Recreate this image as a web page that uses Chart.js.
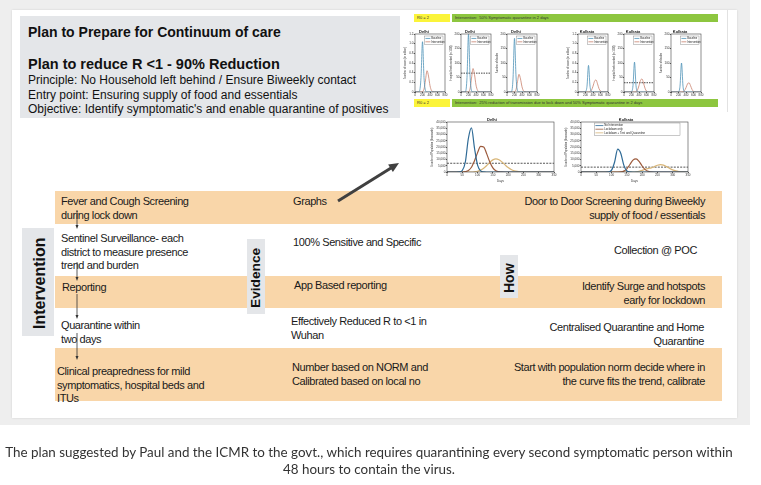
<!DOCTYPE html>
<html><head><meta charset="utf-8">
<script src="https://cdn.jsdelivr.net/npm/chart.js@4.4.1/dist/chart.umd.min.js"></script>
<style>
html,body{margin:0;padding:0;width:761px;height:485px;overflow:hidden;background:#fff;font-family:"Liberation Sans",Arial,sans-serif;color:#111;}
.abs{position:absolute;}
#page{left:0;top:0;width:750px;height:425px;background:#eeeeee;}
#slide{left:12px;top:10px;width:725px;height:408px;background:#fff;box-shadow:0 0 2px rgba(0,0,0,0.12);}
#titlebox{left:20px;top:16px;width:380px;height:102px;background:#e4e6e9;}
.h1{font-weight:bold;font-size:14px;white-space:nowrap;}
.h2{font-weight:bold;font-size:14.5px;white-space:nowrap;}
.p{font-size:12px;line-height:14.5px;white-space:nowrap;}
.row{left:55px;width:667px;background:#f9d6a9;}
.t{font-size:11px;line-height:13.5px;letter-spacing:-0.4px;white-space:nowrap;color:#1a1a1a;}
.r{text-align:right;}
.vbox{background:#e4e6e9;}
.vlab{font-weight:bold;white-space:nowrap;transform-origin:0 0;transform:rotate(-90deg);color:#111;}
.bar{font-size:4px;line-height:8px;white-space:nowrap;color:#333;padding-left:3px;box-sizing:border-box;}
#caption{left:0;top:444px;width:738px;text-align:center;font-family:Lato,"Open Sans",sans-serif;font-size:13.4px;line-height:17px;color:#333;}
canvas{position:absolute;}
</style></head>
<body>
<div id="page" class="abs"></div>
<div id="slide" class="abs"></div>
<div id="titlebox" class="abs"></div>
<div class="abs h1" style="left:28px;top:24px;">Plan to Prepare for Continuum of care</div>
<div class="abs h2" style="left:28px;top:56px;">Plan to reduce R &lt;1 - 90% Reduction</div>
<div class="abs p" style="left:28px;top:73px;">Principle: No Household left behind / Ensure Biweekly contact<br>Entry point: Ensuring supply of food and essentials<br>Objective: Identify symptomatic's and enable quarantine of positives</div>

<div class="abs" style="left:727px;top:10px;width:1px;height:102px;background:#e2e2e2;"></div>
<div class="abs bar" style="left:414px;top:14px;width:36px;height:8px;background:#fbf43a;">R0 = 2</div>
<div class="abs bar" style="left:452px;top:14px;width:266px;height:8px;background:#8dc63f;">Intervention:&nbsp; 50% Symptomatic quarantine in 2 days</div>
<div class="abs bar" style="left:414px;top:99px;width:36px;height:8px;background:#fbf43a;">R0 = 2</div>
<div class="abs bar" style="left:452px;top:99px;width:266px;height:8px;background:#8dc63f;">Intervention:&nbsp; 25% reduction of transmission due to lock down and 50% Symptomatic quarantine in 2 days</div>

<canvas id="d1"></canvas><canvas id="d2"></canvas><canvas id="d3"></canvas>
<canvas id="k1"></canvas><canvas id="k2"></canvas><canvas id="k3"></canvas>
<canvas id="bd"></canvas><canvas id="bk"></canvas>

<div class="abs row" style="top:191px;height:33px;"></div>
<div class="abs row" style="top:276px;height:32px;"></div>
<div class="abs row" style="top:348px;height:53px;"></div>

<div class="abs vbox" style="left:22px;top:228px;width:32px;height:108px;"></div>
<div class="abs vlab" style="left:31px;top:329px;font-size:16px;line-height:18px;">Intervention</div>
<div class="abs vbox" style="left:247px;top:239px;width:18px;height:75px;"></div>
<div class="abs vlab" style="left:248px;top:308px;font-size:13.7px;line-height:16px;">Evidence</div>
<div class="abs vbox" style="left:500px;top:255px;width:18px;height:43px;"></div>
<div class="abs vlab" style="left:501px;top:293px;font-size:14px;line-height:16px;">How</div>

<div class="abs t" style="left:61px;top:195px;">Fever and Cough Screening<br>during lock down</div>
<div class="abs t" style="left:61px;top:232px;">Sentinel Surveillance- each<br>district to measure presence<br>trend and burden</div>
<div class="abs t" style="left:62px;top:281px;">Reporting</div>
<div class="abs t" style="left:61px;top:319px;">Quarantine within<br>two days</div>
<div class="abs t" style="left:57px;top:365px;">Clinical preapredness for mild<br>symptomatics, hospital beds and<br>ITUs</div>

<div class="abs t" style="left:293px;top:195px;">Graphs</div>
<div class="abs t" style="left:293px;top:236px;">100% Sensitive and Specific</div>
<div class="abs t" style="left:294px;top:279px;">App Based reporting</div>
<div class="abs t" style="left:291px;top:315px;">Effectively Reduced R to &lt;1 in<br>Wuhan</div>
<div class="abs t" style="left:292px;top:361px;">Number based on NORM and<br>Calibrated based on local no</div>

<div class="abs t r" style="right:56px;top:195px;">Door to Door Screening during Biweekly<br>supply of food / essentials</div>
<div class="abs t r" style="right:64px;top:244px;">Collection @ POC</div>
<div class="abs t r" style="right:56px;top:280px;">Identify Surge and hotspots<br>early for lockdown</div>
<div class="abs t r" style="right:57px;top:321px;">Centralised Quarantine and Home<br>Quarantine</div>
<div class="abs t r" style="right:56px;top:361px;">Start with population norm decide where in<br>the curve fits the trend, calibrate</div>

<svg class="abs" style="left:0;top:0;" width="761" height="485">
  <line x1="338" y1="201" x2="391" y2="168" stroke="#404040" stroke-width="3"/>
  <polygon points="399,163 392.9,172.1 388.1,164.5" fill="#404040"/>
  <g stroke="#333" stroke-width="0.8">
    <line x1="77" y1="210" x2="77" y2="226"/>
    <line x1="77" y1="262" x2="77" y2="278"/>
    <line x1="77" y1="294" x2="77" y2="316"/>
    <line x1="77" y1="333" x2="77" y2="357"/>
  </g>
  <g fill="#333">
    <polygon points="75.5,225 78.5,225 77,229"/>
    <polygon points="75.5,277 78.5,277 77,281"/>
    <polygon points="75.5,315 78.5,315 77,319"/>
    <polygon points="75.5,356 78.5,356 77,360"/>
  </g>
</svg>

<div id="caption" class="abs">The plan suggested by Paul and the ICMR to the govt., which requires quarantining every second symptomatic person within<br>48 hours to contain the virus.</div>

<script>
// ---------- data ----------
const topDays = [0,40,80,120,160,200,240,280,320,360,400,440,480,520,560,600,640,680,720,760,800];
const delhiCasesBaseline     = [0,0,0,0.02,0.3,1.04,0.3,0.03,0,0,0,0,0,0,0,0,0,0,0,0,0];
const delhiCasesIntervention = [0,0,0,0,0,0.01,0.06,0.25,0.44,0.33,0.13,0.03,0.01,0,0,0,0,0,0,0,0];
const delhiBedsBaseline      = [0,0,0,1,50,199,60,5,0,0,0,0,0,0,0,0,0,0,0,0,0];
const delhiBedsIntervention  = [0,0,0,0,0,1,10,48,81,60,24,6,1,0,0,0,0,0,0,0,0];
const delhiBedCapacity = 65;
const delhiDeathsBaseline     = [0,0,0,1,45,185,55,5,0,0,0,0,0,0,0,0,0,0,0,0,0];
const delhiDeathsIntervention = [0,0,0,0,0,1,8,36,61,45,18,4,1,0,0,0,0,0,0,0,0];
const kolkataCasesBaseline     = [0,0,0,0,0,0.01,0.12,0.55,0.12,0.01,0,0,0,0,0,0,0,0,0,0,0];
const kolkataCasesIntervention = [0,0,0,0,0,0,0,0,0.01,0.04,0.12,0.22,0.25,0.17,0.07,0.02,0,0,0,0,0];
const kolkataBedsBaseline      = [0,0,0,0,0,1,22,103,22,1,0,0,0,0,0,0,0,0,0,0,0];
const kolkataBedsIntervention  = [0,0,0,0,0,0,0,0,1,7,22,40,45,31,13,3,0,0,0,0,0];
const kolkataBedCapacity = 32;
const kolkataDeathsBaseline     = [0,0,0,0,0,1,20,100,20,1,0,0,0,0,0,0,0,0,0,0,0];
const kolkataDeathsIntervention = [0,0,0,0,0,0,0,0,1,5,15,28,32,22,9,2,0,0,0,0,0];

const bottomDays = [0,10,20,30,40,50,60,70,80,90,100,110,120,130,140,150,160,170,180,190,200,210,220,230,240,250,260,270,280,290,300,310,320,330,340,350];
const delhiNoIntervention = [0,0,0,0,100,1200,8000,27000,35300,19000,5500,900,100,0,0,0,0,0,0,0,0,0,0,0,0,0,0,0,0,0,0,0,0,0,0,0];
const delhiLockdown       = [0,0,0,0,0,0,300,1200,3800,9000,15500,20500,20000,14500,8000,3300,1000,250,50,0,0,0,0,0,0,0,0,0,0,0,0,0,0,0,0,0];
const delhiLockdownTQ     = [0,0,0,0,0,0,0,0,0,200,600,1500,3000,5200,7700,9700,10500,9800,8000,5700,3600,2000,1000,450,150,50,0,0,0,0,0,0,0,0,0,0];
const delhiCapacity = 7000;
const kolkataNoIntervention = [0,0,0,0,0,0,0,0,0,100,1500,8000,18300,15000,5500,800,50,0,0,0,0,0,0,0,0,0,0,0,0,0,0,0,0,0,0,0];
const kolkataLockdown       = [0,0,0,0,0,0,0,0,0,0,0,0,0,100,700,2500,6000,9500,10500,8500,4800,1900,500,100,0,0,0,0,0,0,0,0,0,0,0,0];
const kolkataLockdownTQ     = [0,0,0,0,0,0,0,0,0,0,0,0,0,0,0,0,0,0,200,600,1300,2200,2800,3300,4300,5400,5900,5500,4300,2900,1700,900,400,150,50,0];
const kolkataCapacity = 3900;

const topSeriesNames = ['Baseline','Intervention'];
const bottomSeriesNames = ['No Intervention','Lockdown only','Lockdown + Test and Quarantine'];

// ---------- helpers ----------
Chart.defaults.font.family = '"Liberation Sans", Arial, sans-serif';
const pts = (xs, ys) => xs.map((x,i)=>({x, y: ys[i]}));

const frame = {id:'frame', afterDatasetsDraw(c){const a=c.chartArea,ctx=c.ctx;ctx.save();ctx.strokeStyle='#444';ctx.lineWidth=0.6;ctx.strokeRect(a.left,a.top,a.right-a.left,a.bottom-a.top);ctx.restore();}};
const miniLegend = {id:'miniLegend', afterDraw(c,args,o){
  if(!o || !o.show) return;
  const a=c.chartArea, ctx=c.ctx;
  const items=c.data.datasets.filter(d=>!d.noLegend);
  const fs=o.fontSize, lh=fs*1.3;
  const w=(a.right-a.left)*o.widthFrac, h=items.length*lh+1.5;
  const x=a.right-w-o.right, y=a.top+o.top;
  ctx.save();
  ctx.fillStyle='#fff'; ctx.fillRect(x,y,w,h);
  ctx.strokeStyle='#777'; ctx.lineWidth=0.4; ctx.strokeRect(x,y,w,h);
  ctx.font=fs+'px "Liberation Sans", Arial'; ctx.textBaseline='middle';
  items.forEach((d,i)=>{const cy=y+0.75+lh*(i+0.5);
    ctx.strokeStyle=d.borderColor; ctx.lineWidth=0.8; ctx.beginPath(); ctx.moveTo(x+1,cy); ctx.lineTo(x+1+o.sample,cy); ctx.stroke();
    ctx.fillStyle='#222'; ctx.fillText(d.label,x+1.8+o.sample,cy);});
  ctx.restore();
}};

function xScale(min,max,step,title,h,fs){
  return {type:'linear',min,max,
    ticks:{stepSize:step,font:{size:fs},padding:0.3,maxRotation:0,autoSkip:false,color:'#333'},
    grid:{drawOnChartArea:false,tickLength:1.2,color:'#555'},border:{display:false},
    title:{display:!!title,text:title,font:{size:fs},padding:0,color:'#333'},
    afterFit(s){s.height=h;s.paddingLeft=0;s.paddingRight=0;}};
}
function yScale(min,max,step,title,w,fs){
  return {type:'linear',min,max,
    ticks:{stepSize:step,font:{size:fs},padding:0.3,autoSkip:false,color:'#333'},
    grid:{drawOnChartArea:false,tickLength:1.2,color:'#555'},border:{display:false},
    title:{display:!!title,text:title,font:{size:fs*0.85},padding:0.3,color:'#333'},
    afterFit(s){s.width=w;s.paddingTop=0;s.paddingBottom=0;}};
}
function mk(id,L,T,W,H,yw,xh,th,datasets,xs,ys,title,legend){
  const cv=document.getElementById(id);
  const cw=W+yw+3, ch=H+th+xh;
  cv.width=cw; cv.height=ch;
  cv.style.left=(L-yw)+'px'; cv.style.top=(T-th)+'px';
  cv.style.width=cw+'px'; cv.style.height=ch+'px';
  new Chart(cv,{type:'line',data:{datasets},
    options:{responsive:false,animation:false,devicePixelRatio:1,
      layout:{padding:{left:0,right:3,top:0,bottom:0}},
      plugins:{legend:{display:false},tooltip:{enabled:false},
        title:{display:true,text:title,font:{size:4,weight:'bold'},padding:{top:0,bottom:th-4.8},color:'#222'},
        miniLegend:legend||{show:false}},
      elements:{point:{radius:0},line:{cubicInterpolationMode:'monotone'}},
      scales:{x:xs,y:ys}},
    plugins:[frame,miniLegend]});
}
const BLUE='#4f93b8', RED='#c9826d';
function topSets(base,inter,cap){
  const s=[{label:topSeriesNames[0],data:pts(topDays,base),borderColor:BLUE,borderWidth:0.8},
           {label:topSeriesNames[1],data:pts(topDays,inter),borderColor:RED,borderWidth:0.8}];
  if(cap!==undefined) s.push({label:'capacity',noLegend:true,data:[{x:topDays[0],y:cap},{x:topDays[topDays.length-1],y:cap}],borderColor:'#333',borderDash:[1.5,1],borderWidth:0.9});
  return s;
}
const topLegend={show:true,fontSize:2.6,widthFrac:0.62,right:2,top:2,sample:5};
const TT=34, TH=58, TW=30, YW=12, XH=7, TTH=5;
mk('d1',415,TT,TW,TH,YW,XH,TTH,topSets(delhiCasesBaseline,delhiCasesIntervention),xScale(0,800,200,'',XH,3),yScale(0,1.2,0.2,'Number of cases (in million)',YW,3),'Delhi',topLegend);
mk('d2',461,TT,TW,TH,YW,XH,TTH,topSets(delhiBedsBaseline,delhiBedsIntervention,delhiBedCapacity),xScale(0,800,200,'',XH,3),yScale(0,200,50,'Hospital beds needed (in 1000)',YW,3),'Delhi',topLegend);
mk('d3',507,TT,TW,TH,YW,XH,TTH,topSets(delhiDeathsBaseline,delhiDeathsIntervention),xScale(0,800,200,'',XH,3),yScale(0,200,50,'Number of deaths',YW,3),'Delhi',topLegend);
mk('k1',578,TT,TW,TH,YW,XH,TTH,topSets(kolkataCasesBaseline,kolkataCasesIntervention),xScale(0,800,200,'',XH,3),yScale(0,1.2,0.2,'Number of cases (in million)',YW,3),'Kolkata',topLegend);
mk('k2',624,TT,TW,TH,YW,XH,TTH,topSets(kolkataBedsBaseline,kolkataBedsIntervention,kolkataBedCapacity),xScale(0,800,200,'',XH,3),yScale(0,200,50,'Hospital beds needed (in 1000)',YW,3),'Kolkata',topLegend);
mk('k3',671,TT,TW,TH,YW,XH,TTH,topSets(kolkataDeathsBaseline,kolkataDeathsIntervention),xScale(0,800,200,'',XH,3),yScale(0,200,50,'Number of deaths',YW,3),'Kolkata',topLegend);

const B1='#2e6a96', B2='#9c5a3c', B3='#d8b577';
function botSets(a,b,c,cap){
  return [{label:bottomSeriesNames[0],data:pts(bottomDays,a),borderColor:B1,borderWidth:1.2},
          {label:bottomSeriesNames[1],data:pts(bottomDays,b),borderColor:B2,borderWidth:1.2},
          {label:bottomSeriesNames[2],data:pts(bottomDays,c),borderColor:B3,borderWidth:1.2},
          {label:'capacity',noLegend:true,data:[{x:bottomDays[0],y:cap},{x:bottomDays[bottomDays.length-1],y:cap}],borderColor:'#555',borderDash:[2,1.2],borderWidth:1}];
}
const BT=122, BH=50, BW=107, BYW=17, BXH=11;
mk('bd',447,BT,BW,BH,BYW,BXH,TTH,botSets(delhiNoIntervention,delhiLockdown,delhiLockdownTQ,delhiCapacity),xScale(0,350,50,'Days',BXH,3),yScale(0,40000,5000,'Number of Population (thousands)',BYW,3),'Delhi');
mk('bk',581,BT,BW,BH,BYW,BXH,TTH,botSets(kolkataNoIntervention,kolkataLockdown,kolkataLockdownTQ,kolkataCapacity),xScale(0,350,50,'Days',BXH,3),yScale(0,40000,5000,'Number of Population (thousands)',BYW,3),'Kolkata',{show:true,fontSize:2.8,widthFrac:0.8,right:8,top:1,sample:8});
</script>
</body></html>
